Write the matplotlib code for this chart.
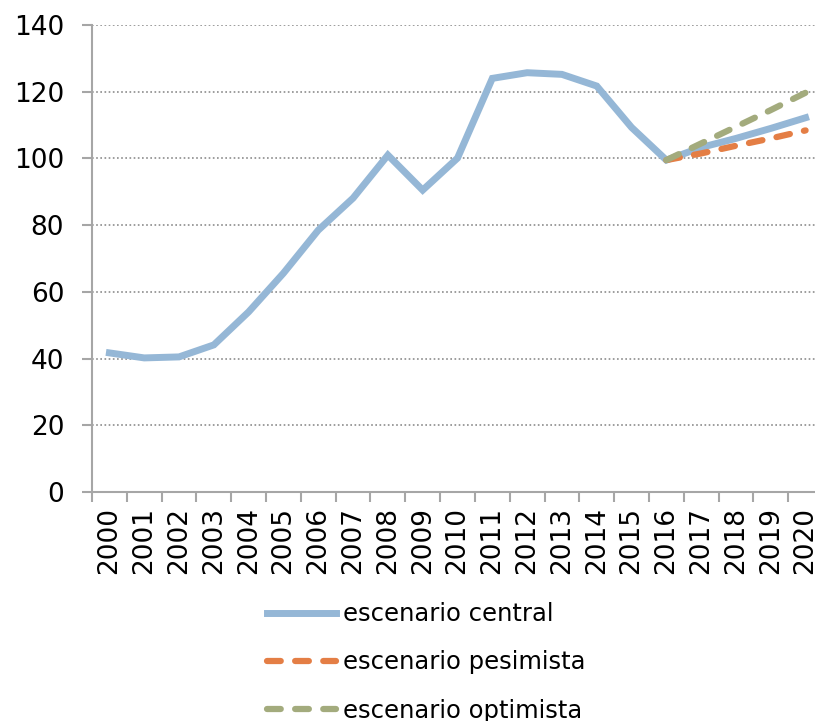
import numpy as np
import matplotlib
matplotlib.use("Agg")
import matplotlib.pyplot as plt
from matplotlib.ticker import MultipleLocator, FixedLocator

years = [str(y) for y in range(2000, 2021)]
central = [41.7, 40.2, 40.5, 44.1, 54.0, 65.6, 78.5, 88.1, 101.0, 90.5, 100.1,
           124.0, 125.7, 125.2, 121.7, 109.3, 99.5, 103.3, 106.0, 109.0, 112.2]
pesimista_years = years[16:]
pesimista = [99.5, 101.5, 103.8, 106.0, 108.4]
optimista_years = years[16:]
optimista = [99.5, 104.5, 109.5, 114.5, 119.7]

blue = "#95B7D6"
orange = "#E47E45"
green = "#A3AB7D"
grey = "#A6A6A6"

plt.rcParams['font.family'] = ['DejaVu Sans']

W, H = 815, 721
fig = plt.figure(figsize=(W / 100, H / 100), dpi=100)
# axes spans slightly past the right edge, like the cropped original
ax = fig.add_axes([92 / W, (H - 492) / H, (823 - 92) / W, (492 - 25) / H])

x = np.arange(len(years))
ax.plot(x, central, color=blue, lw=5, solid_joinstyle='miter', zorder=3,
        label="escenario central")
xi = [years.index(y) for y in pesimista_years]
ax.plot(xi, pesimista, color=orange, lw=4.5, dashes=(2.2, 2.3),
        dash_capstyle='round', zorder=4, label="escenario pesimista")
xo = [years.index(y) for y in optimista_years]
ax.plot(xo, optimista, color=green, lw=4.5, dashes=(2.2, 2.3),
        dash_capstyle='round', zorder=5, label="escenario optimista")

ax.set_xlim(-0.5, len(years) - 0.5)
ax.set_ylim(0, 140)
ax.yaxis.set_major_locator(MultipleLocator(20))
ax.grid(axis='y', color='#8C8C8C', linestyle=(0, (1, 1.5)), lw=1.2)
ax.set_axisbelow(True)

ax.set_xticks(x)
ax.set_xticklabels(years, rotation=90, fontsize=19)
ax.xaxis.set_minor_locator(FixedLocator(np.arange(-0.5, len(years), 1)))
ax.tick_params(axis='x', which='major', length=0, pad=11)
ax.tick_params(axis='x', which='minor', length=7, width=1.5, color=grey)
ax.tick_params(axis='y', length=7, width=1.5, color=grey, labelsize=19, pad=13)

for s in ['top', 'right']:
    ax.spines[s].set_visible(False)
for s in ['left', 'bottom']:
    ax.spines[s].set_color(grey)
    ax.spines[s].set_linewidth(1.5)

fig.legend(loc='upper left', bbox_to_anchor=(255 / W, 1 - 590 / H),
           frameon=False, fontsize=17.5, handlelength=2.85, handletextpad=0.25,
           labelspacing=1.0, borderpad=0)

fig.savefig("out.png", dpi=100)
